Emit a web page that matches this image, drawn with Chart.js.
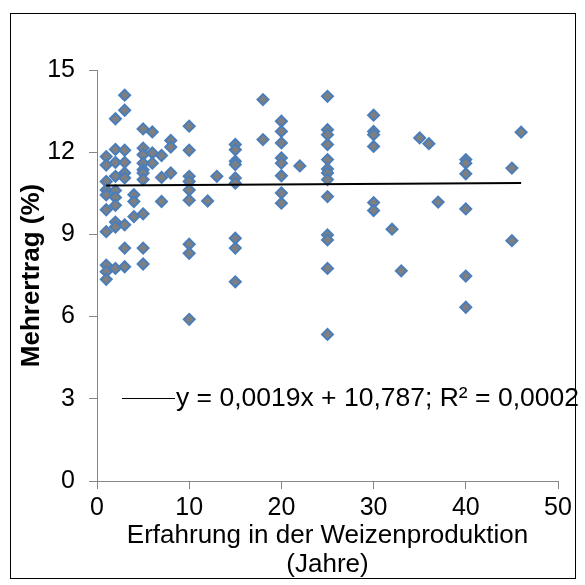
<!DOCTYPE html>
<html>
<head>
<meta charset="utf-8">
<script src="https://cdn.jsdelivr.net/npm/chart.js@4"></script>
<style>
  html, body { margin: 0; padding: 0; background: #fff; }
  #wrap { width: 585px; height: 585px; }
</style>
</head>
<body>
<div id="wrap"><canvas id="scatterChart" width="585" height="585"></canvas></div>
<script>
// years of experience in wheat production (x) and extra yield in % (y)
var expYears = [
  1, 1, 1, 1, 1, 1, 1, 1, 1, 1,
  2, 2, 2, 2, 2, 2, 2, 2, 2, 2,
  3, 3, 3, 3, 3, 3, 3, 3, 3,
  4, 4, 4,
  5, 5, 5, 5, 5, 5, 5, 5, 5, 5,
  6, 6, 6,
  7, 7, 7,
  8, 8, 8,
  10, 10, 10, 10, 10, 10, 10, 10, 10,
  12, 13,
  15, 15, 15, 15, 15, 15, 15, 15, 15,
  18, 18,
  20, 20, 20, 20, 20, 20, 20, 20,
  22,
  25, 25, 25, 25, 25, 25, 25, 25, 25, 25, 25, 25, 25,
  30, 30, 30, 30, 30, 30,
  32, 33, 35, 36, 37,
  40, 40, 40, 40, 40, 40,
  45, 45, 46
];
var extraYield = [
  11.84, 11.53, 10.93, 10.62, 10.44, 9.9, 9.1, 7.88, 7.64, 7.36,
  13.22, 12.1, 11.63, 11.12, 10.6, 10.35, 10.06, 9.45, 9.27, 7.76,
  14.08, 13.53, 12.07, 11.63, 11.24, 11.06, 9.35, 8.5, 7.82,
  10.45, 10.2, 9.65,
  12.85, 12.15, 11.91, 11.6, 11.36, 11.24, 11.0, 9.75, 8.5, 7.92,
  12.74, 11.97, 11.6,
  11.88, 11.08, 10.2,
  12.43, 12.19, 11.24,
  12.95, 12.07, 11.12, 10.93, 10.62, 10.25, 8.64, 8.31, 5.9,
  10.22, 11.12,
  12.28, 12.09, 11.67, 11.55, 11.06, 10.87, 8.86, 8.5, 7.27,
  13.92, 12.46,
  13.13, 12.76, 12.34, 11.79, 11.6, 11.14, 10.51, 10.14,
  11.5,
  14.04, 12.82, 12.64, 12.28, 11.73, 11.39, 11.24, 11.0, 10.38, 8.98, 8.8, 7.76, 5.35,
  13.35, 12.76, 12.64, 12.21, 10.16, 9.87,
  9.19, 7.67, 12.52, 12.31, 10.18,
  11.73, 11.6, 11.21, 9.93, 7.48, 6.34,
  11.42, 8.77, 12.73
];

// linear trend line end points
var trendX = [1, 46];
var trendY = [10.789, 10.874];
var trendLabel = "y = 0,0019x + 10,787; R\u00B2 = 0,0002";

var xTitle = ["Erfahrung in der Weizenproduktion", "(Jahre)"];
var yTitle = "Mehrertrag (%)";

var fontFam = "'Liberation Sans', Arial, sans-serif";
var axisGrey = "#868686";

var points = expYears.map(function(x, i) { return {x: x, y: extraYield[i]}; });
var trend = trendX.map(function(x, i) { return {x: x, y: trendY[i]}; });

// outer frame + legend drawn inside the plot
var framePlugin = {
  id: 'frameAndLegend',
  beforeDraw: function(chart) {
    var ctx = chart.ctx;
    ctx.save();
    ctx.fillStyle = '#fff';
    ctx.fillRect(0, 0, chart.width, chart.height);
    ctx.restore();
  },
  afterDraw: function(chart) {
    var ctx = chart.ctx;
    ctx.save();
    ctx.strokeStyle = '#000';
    ctx.lineWidth = 1;
    ctx.strokeRect(10.5, 13.5, 565, 565);

    ctx.beginPath();
    ctx.moveTo(122, 398.5);
    ctx.lineTo(175, 398.5);
    ctx.stroke();
    ctx.fillStyle = '#000';
    ctx.font = "26.5px " + fontFam;
    ctx.textBaseline = 'middle';
    ctx.textAlign = 'left';
    ctx.fillText(trendLabel, 176, 399);
    ctx.restore();
  }
};

var ctx = document.getElementById("scatterChart");
var scatterChart = new Chart(ctx, {
  type: 'scatter',
  data: {
    datasets: [
      {
        label: 'Mehrertrag',
        data: points,
        pointStyle: 'rectRot',
        pointRadius: 5.5,
        pointHoverRadius: 5.5,
        pointBackgroundColor: '#7f7f7f',
        pointBorderColor: '#4a7ebb',
        pointBorderWidth: 2,
        order: 2
      },
      {
        label: trendLabel,
        data: trend,
        showLine: true,
        borderColor: '#000',
        borderWidth: 2,
        pointRadius: 0,
        fill: false,
        order: 1
      }
    ]
  },
  options: {
    responsive: false,
    animation: false,
    events: [],
    layout: { padding: { left: 13, top: 70, right: 27, bottom: 0 } },
    plugins: {
      legend: { display: false },
      tooltip: { enabled: false }
    },
    scales: {
      x: {
        type: 'linear',
        min: 0,
        max: 50,
        afterFit: function(scale) { scale.height = 104; },
        ticks: { stepSize: 10, color: '#000', padding: 4, font: { family: fontFam, size: 25 } },
        grid: { drawOnChartArea: false, drawTicks: true, tickLength: 8, color: axisGrey },
        border: { color: axisGrey, width: 1 },
        title: {
          display: true,
          text: xTitle,
          color: '#000',
          font: { family: fontFam, size: 26, lineHeight: 1.1 },
          padding: { top: 0, bottom: 6 }
        }
      },
      y: {
        type: 'linear',
        min: 0,
        max: 15,
        afterFit: function(scale) { scale.width = 84; },
        ticks: { stepSize: 3, color: '#000', padding: 14, font: { family: fontFam, size: 25 } },
        grid: { drawOnChartArea: false, drawTicks: true, tickLength: 8, color: axisGrey },
        border: { color: axisGrey, width: 1 },
        title: {
          display: true,
          text: yTitle,
          color: '#000',
          font: { family: fontFam, size: 26, weight: 'bold' },
          padding: { top: 3, bottom: 0 }
        }
      }
    }
  },
  plugins: [framePlugin]
});
</script>
</body>
</html>
